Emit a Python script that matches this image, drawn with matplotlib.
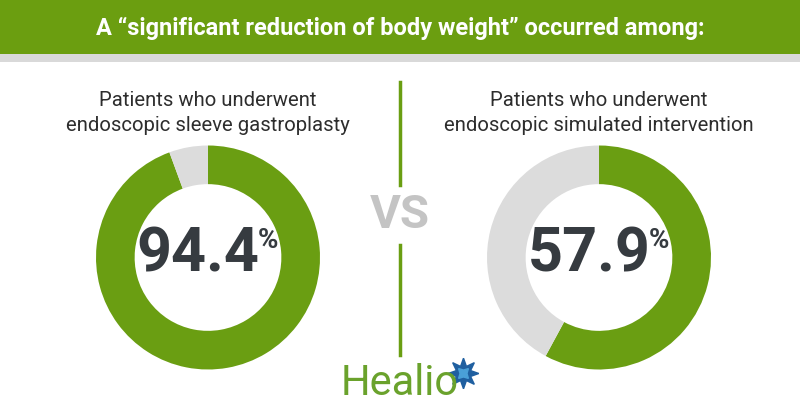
import matplotlib.pyplot as plt
from matplotlib.patches import Rectangle

title = "A \u201csignificant reduction of body weight\u201d occurred among:"
groups = ["Patients who underwent\nendoscopic sleeve gastroplasty",
          "Patients who underwent\nendoscopic simulated intervention"]
values = [94.4, 57.9]

green = "#6a9e12"
ring_gray = "#dcdcdc"
dark = "#363b40"

fig = plt.figure(figsize=(8, 4.2), dpi=100)
ax = fig.add_axes([0, 0, 1, 1])
ax.set_xlim(0, 800)
ax.set_ylim(420, 0)
ax.axis("off")
ax.set_zorder(3)

# header band
ax.add_patch(Rectangle((0, 0), 800, 54, color="#6b9e10", lw=0))
ax.add_patch(Rectangle((0, 54), 800, 8, color="#d9d9d9", lw=0))
ax.text(400, 28, title, color="white", fontsize=17, fontweight="bold",
        family="Roboto", ha="center", va="center")

# divider and VS
ax.plot([400, 400], [82, 185], color=green, lw=2.5)
ax.plot([400, 400], [245, 355], color=green, lw=2.5)
ax.text(400, 215, "VS", color="#c4c4c4", fontsize=34, fontweight="bold",
        family="Roboto", ha="center", va="center")

centers = [208, 599]
cy = 257.5
r_out = 112
for cx, label, v in zip(centers, groups, values):
    ax.text(cx, 113, label, color="#2d2d2d", fontsize=14.6, family="Roboto",
            ha="center", va="center", linespacing=1.42)
    dax = fig.add_axes([(cx - r_out) / 800, (420 - cy - r_out) / 420,
                        2 * r_out / 800, 2 * r_out / 420])
    dax.pie([v, 100 - v], colors=[green, ring_gray], startangle=90,
            counterclock=False, radius=1, wedgeprops=dict(width=0.345, lw=0))
    dax.set_xlim(-1, 1)
    dax.set_ylim(-1, 1)
    dax.set_aspect("equal")
    dax.set_zorder(1)
    ax.text(cx - 10, 254, f"{v:.1f}", color=dark, fontsize=44, fontweight="bold",
            family="Roboto", ha="center", va="center")
    ax.text(cx + 60, 241, "%", color=dark, fontsize=20, fontweight="bold",
            family="Roboto", ha="center", va="center")

# logo
ax.text(400, 395, "Healio", color="#6aa22c", fontsize=30, family="Roboto",
        ha="center", va="baseline")
ax.plot([463], [373], marker=(8, 1, 0), markersize=22, color="#1f5fa0")
ax.plot([463], [373], marker=(4, 1, 45), markersize=10, color="#4aa0d8")

fig.savefig("out.png", dpi=100)
